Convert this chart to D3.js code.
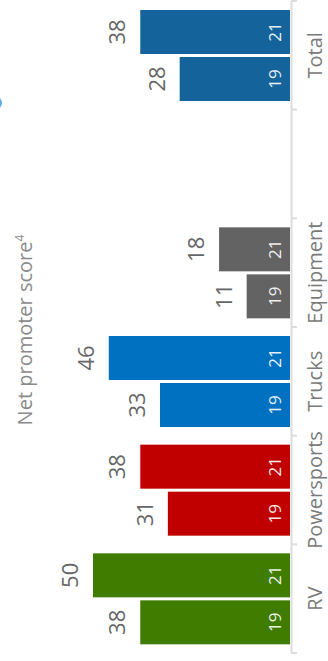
<!DOCTYPE html>
<html>
<head>
<meta charset="utf-8">
<script src="https://cdn.jsdelivr.net/npm/d3@7/dist/d3.min.js"></script>
<style>
  html, body { margin: 0; padding: 0; background: #fff; }
  svg { display: block; font-family: "Open Sans", "Noto Sans", sans-serif; }
</style>
</head>
<body>
<svg id="chart" width="328" height="661"></svg>
<script>
// Net promoter score by segment, 2019 vs 2021 (chart drawn rotated, bars grow leftwards)
const categories = ["Total", "", "Equipment", "Trucks", "Powersports", "RV"];
const years = ["21", "19"];
const score2021 = [38, null, 18, 46, 38, 50];
const score2019 = [28, null, 11, 33, 31, 38];
const segmentColors = ["#14639b", "#ffffff", "#636363", "#0070c0", "#c00000", "#3f7c00"];
const title = "Net promoter score";
const titleNote = "4";

const svg = d3.select("#chart");

const baseX = 290;
const y = d3.scaleBand().domain(categories).range([1, 653]);
const x = d3.scaleLinear().domain([0, 50]).range([baseX, 93]);
const ySub = d3.scaleBand().domain(years).range([9, 100]).paddingInner(0.064);
const color = d3.scaleOrdinal().domain(categories).range(segmentColors);

const rows = [];
categories.forEach((c, i) => {
  [[years[0], score2021[i]], [years[1], score2019[i]]].forEach(([yr, v]) => {
    if (v != null) rows.push({ cat: c, year: yr, value: v });
  });
});

// axis line with ticks on band boundaries
const axis = svg.append("g");
axis.append("line")
  .attr("x1", baseX + 1.5).attr("x2", baseX + 1.5)
  .attr("y1", y.range()[0]).attr("y2", y.range()[1])
  .attr("stroke", "#dcdcdc").attr("stroke-width", 2);
const bounds = categories.map(c => y(c)).concat([y.range()[1]]);
axis.selectAll("line.tick").data(bounds).join("line")
  .attr("class", "tick")
  .attr("x1", baseX + 1).attr("x2", baseX + 7)
  .attr("y1", d => d).attr("y2", d => d)
  .attr("stroke", "#dcdcdc").attr("stroke-width", 2);

// category labels
svg.append("g").selectAll("text").data(categories.filter(c => c)).join("text")
  .attr("transform", c => `translate(${baseX + 32},${y(c) + y.bandwidth() / 2}) rotate(-90)`)
  .attr("text-anchor", "middle")
  .attr("font-size", 20)
  .attr("fill", "#7a7a7a")
  .text(c => c);

// bars
const bars = svg.append("g");
bars.selectAll("rect").data(rows).join("rect")
  .attr("x", d => x(d.value))
  .attr("width", d => baseX - x(d.value))
  .attr("y", d => y(d.cat) + ySub(d.year))
  .attr("height", ySub.bandwidth())
  .attr("fill", d => color(d.cat));

// year labels inside bars
bars.selectAll("text.yr").data(rows).join("text")
  .attr("class", "yr")
  .attr("transform", d => `translate(${baseX - 9},${y(d.cat) + ySub(d.year) + ySub.bandwidth() / 2}) rotate(-90)`)
  .attr("text-anchor", "middle")
  .attr("font-size", 17)
  .attr("fill", "#ffffff")
  .attr("fill-opacity", 0.92)
  .text(d => d.year);

// value labels beyond bar ends
bars.selectAll("text.val").data(rows).join("text")
  .attr("class", "val")
  .attr("transform", d => `translate(${x(d.value) - 15},${y(d.cat) + ySub(d.year) + ySub.bandwidth() / 2}) rotate(-90)`)
  .attr("text-anchor", "middle")
  .attr("font-size", 22)
  .attr("fill", "#666666")
  .text(d => d.value);

// title
const t = svg.append("text")
  .attr("transform", "translate(32,330) rotate(-90)")
  .attr("text-anchor", "middle")
  .attr("font-size", 20)
  .attr("fill", "#8a8a8a")
  .text(title);
t.append("tspan")
  .attr("font-size", 12)
  .attr("dy", -8)
  .text(titleNote);

// marker at the left edge
svg.append("circle")
  .attr("cx", -4).attr("cy", 103).attr("r", 6)
  .attr("fill", "#55aee8");
</script>
</body>
</html>
